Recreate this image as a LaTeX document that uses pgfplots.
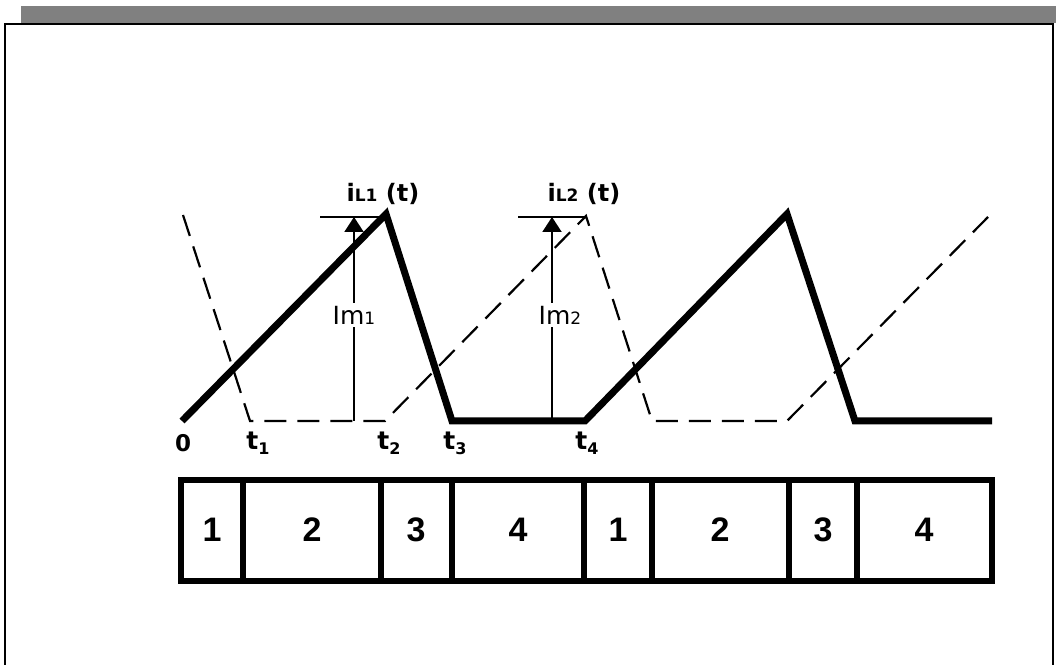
\documentclass[border=0pt]{standalone}
\usepackage{pgfplots}
\pgfplotsset{compat=1.18}
\usetikzlibrary{arrows.meta}
\usepackage{fontspec}
\setmainfont{DejaVu Sans}
\newfontfamily\boxfont{Liberation Sans}
\definecolor{bargray}{RGB}{128,128,128}
\begin{document}
\begin{tikzpicture}
\begin{axis}[
  scale only axis, width=1056pt, height=664pt,
  xmin=0, xmax=1056, ymin=0, ymax=664,
  hide axis, clip=false,
]
% header bar and frame
\fill[bargray] (axis cs:21,641) rectangle (axis cs:1060,658);
\draw[black, line width=2pt] (axis cs:5,-10) -- (axis cs:5,640) -- (axis cs:1053,640) -- (axis cs:1053,-10);
% inductor current iL1 (solid)
\addplot[black, line width=7pt, line join=miter, miter limit=4] coordinates {
  (182,243) (386,450) (452,243) (585,243) (787,450) (855,243) (992,243)};
% inductor current iL2 (dashed)
\addplot[black, line width=2.2pt, dash pattern=on 22pt off 11pt] coordinates {
  (183,449) (250,243) (385,243) (586,448) (652,243) (787,243) (988,447)};
% peak markers
\draw[line width=2pt] (axis cs:320,447) -- (axis cs:386,447);
\draw[line width=2pt] (axis cs:518,447) -- (axis cs:586,447);
\draw[line width=2pt, -{Triangle[length=15pt,width=19pt]}] (axis cs:354,243) -- (axis cs:354,447);
\draw[line width=2pt, -{Triangle[length=15pt,width=19pt]}] (axis cs:552,243) -- (axis cs:552,447);
\node[fill=white, inner sep=3pt] at (axis cs:354,349) {\fontsize{25}{25}\selectfont Im{\fontsize{17}{17}\selectfont 1}};
\node[fill=white, inner sep=3pt] at (axis cs:560,349) {\fontsize{25}{25}\selectfont Im{\fontsize{17}{17}\selectfont 2}};
\node at (axis cs:383,470) {\bfseries\fontsize{24}{24}\selectfont i{\fontsize{17}{17}\selectfont L1} (t)};
\node at (axis cs:584,470) {\bfseries\fontsize{24}{24}\selectfont i{\fontsize{17}{17}\selectfont L2} (t)};
% time labels
\node at (axis cs:183,221) {\bfseries\fontsize{23}{23}\selectfont 0};
\node at (axis cs:258,221) {\bfseries\fontsize{25}{25}\selectfont t\raisebox{-5pt}{\fontsize{16}{16}\selectfont 1}};
\node at (axis cs:389,221) {\bfseries\fontsize{25}{25}\selectfont t\raisebox{-5pt}{\fontsize{16}{16}\selectfont 2}};
\node at (axis cs:455,221) {\bfseries\fontsize{25}{25}\selectfont t\raisebox{-5pt}{\fontsize{16}{16}\selectfont 3}};
\node at (axis cs:587,221) {\bfseries\fontsize{25}{25}\selectfont t\raisebox{-5pt}{\fontsize{16}{16}\selectfont 4}};
% interval boxes
\draw[line width=6pt, line join=miter] (axis cs:181,83) rectangle (axis cs:992,184);
\draw[line width=6pt] (axis cs:243,83) -- (axis cs:243,184);
\draw[line width=6pt] (axis cs:381,83) -- (axis cs:381,184);
\draw[line width=6pt] (axis cs:452,83) -- (axis cs:452,184);
\draw[line width=6pt] (axis cs:584,83) -- (axis cs:584,184);
\draw[line width=6pt] (axis cs:652,83) -- (axis cs:652,184);
\draw[line width=6pt] (axis cs:789,83) -- (axis cs:789,184);
\draw[line width=6pt] (axis cs:857,83) -- (axis cs:857,184);
\node at (axis cs:212,134) {\boxfont\bfseries\fontsize{34}{34}\selectfont 1};
\node at (axis cs:312,134) {\boxfont\bfseries\fontsize{34}{34}\selectfont 2};
\node at (axis cs:416,134) {\boxfont\bfseries\fontsize{34}{34}\selectfont 3};
\node at (axis cs:518,134) {\boxfont\bfseries\fontsize{34}{34}\selectfont 4};
\node at (axis cs:618,134) {\boxfont\bfseries\fontsize{34}{34}\selectfont 1};
\node at (axis cs:720,134) {\boxfont\bfseries\fontsize{34}{34}\selectfont 2};
\node at (axis cs:823,134) {\boxfont\bfseries\fontsize{34}{34}\selectfont 3};
\node at (axis cs:924,134) {\boxfont\bfseries\fontsize{34}{34}\selectfont 4};
\end{axis}
\pgfresetboundingbox
\path (0,0) rectangle (1056pt,664pt);
\end{tikzpicture}
\end{document}
